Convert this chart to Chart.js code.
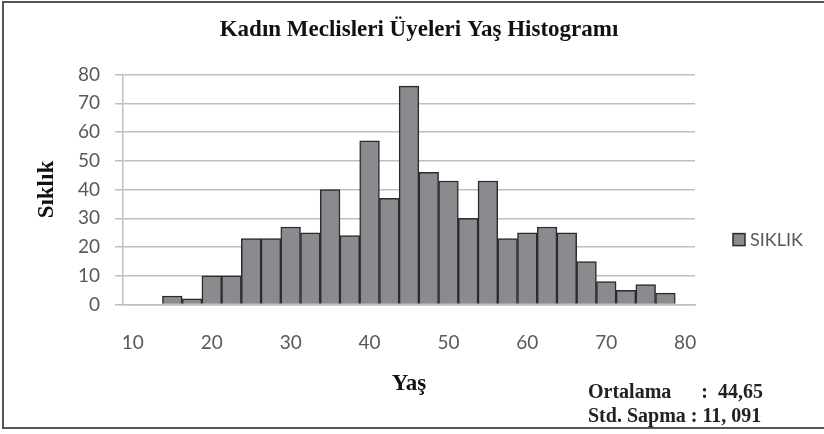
<!DOCTYPE html>
<html>
<head>
<meta charset="utf-8">
<script src="https://cdn.jsdelivr.net/npm/chart.js@4"></script>
<style>
  html, body { margin: 0; padding: 0; background: #fff; overflow: hidden; }
  #wrap { position: relative; width: 824px; height: 434px; }
  #frame { position: absolute; left: 2px; top: 1px; width: 840px; height: 424px;
           border: 2px solid #555; pointer-events: none; }
  #stats { position: absolute; left: 588px; top: 379px; white-space: pre;
           font: bold 20px 'Liberation Serif', serif; line-height: 24px; color: #222; }
</style>
</head>
<body>
<div id="wrap">
  <canvas id="histChart" width="824" height="434"></canvas>
  <div id="frame"></div>
  <div id="stats"></div>
</div>
<script>
const title = 'Kadın Meclisleri Üyeleri Yaş Histogramı'
const xTitle = 'Yaş'
const yTitle = 'Sıklık'
const seriesName = 'SIKLIK'

// age bins (2.5 years wide), only every 4th one gets a label
const ages = [10, 12.5, 15, 17.5, 20, 22.5, 25, 27.5, 30, 32.5, 35, 37.5, 40, 42.5, 45,
    47.5, 50, 52.5, 55, 57.5, 60, 62.5, 65, 67.5, 70, 72.5, 75, 77.5, 80]
const counts = [null, null, 3, 2, 10, 10, 23, 23, 27, 25, 40, 24, 57, 37, 76,
    46, 43, 30, 43, 23, 25, 27, 25, 15, 8, 5, 7, 4, null]
const yTicks = [0, 10, 20, 30, 40, 50, 60, 70, 80]
const statLines = ['Ortalama      :  44,65', 'Std. Sapma : 11, 091']

document.getElementById('stats').textContent = statLines.join('\n')

const barFill = '#8a8b8f'
const barEdge = '#2b2b2b'
const gridGray = '#bfbfbf'
const tickGray = '#595959'
const titleFont = { family: 'Liberation Serif', size: 23, weight: 'bold' }

// legend as its own layout box on the right, so the title stays centred on the canvas
const sideLegend = {
    id: 'sideLegend',
    afterInit(chart) {
        const box = {
            position: 'right',
            weight: 0,
            fullSize: false,
            options: {},
            width: 129, height: 0, left: 0, top: 0, right: 0, bottom: 0,
            isHorizontal() { return false },
            getPadding() { return { left: 0, right: 0, top: 0, bottom: 0 } },
            update(maxWidth, maxHeight) {
                this.width = 129
                this.height = maxHeight
            },
            draw() {
                const c = chart.ctx
                const area = chart.chartArea
                const ds = chart.data.datasets[0]
                const x = this.left + 38
                const y = (area.top + area.bottom) / 2 + 50
                c.save()
                c.fillStyle = ds.backgroundColor
                c.strokeStyle = ds.borderColor
                c.lineWidth = 1.5
                c.fillRect(x, y - 6, 12, 12)
                c.strokeRect(x, y - 6, 12, 12)
                c.fillStyle = tickGray
                c.font = '18px Lato'
                c.textBaseline = 'middle'
                c.fillText(ds.label, x + 17, y + 1)
                c.restore()
            }
        }
        Chart.layouts.addBox(chart, box)
    }
}

var ctx = document.getElementById('histChart')
var myChart = new Chart(ctx, {
    type: 'bar',
    data: {
        labels: ages,
        datasets: [{
            label: seriesName,
            data: counts,
            backgroundColor: barFill,
            borderColor: barEdge,
            borderWidth: 1.5,
            barPercentage: 1,
            categoryPercentage: 1
        }]
    },
    options: {
        responsive: false,
        animation: false,
        devicePixelRatio: 1,
        layout: { padding: { left: 14, right: 0, top: 0, bottom: 0 } },
        plugins: {
            legend: { display: false },
            tooltip: { enabled: false },
            title: {
                display: true,
                text: title,
                color: '#111',
                font: titleFont,
                padding: { top: 16, bottom: 31 }
            }
        },
        scales: {
            x: {
                grid: { display: false, drawTicks: false },
                border: { display: true, color: gridGray, width: 1.5 },
                ticks: {
                    color: tickGray,
                    font: { family: 'Lato', size: 19 },
                    padding: 27,
                    autoSkip: false,
                    maxRotation: 0,
                    callback: function (val, i) {
                        return i % 4 === 0 ? String(ages[i]) : null
                    }
                },
                title: {
                    display: true,
                    text: xTitle,
                    color: '#111',
                    font: titleFont,
                    padding: { top: -11, bottom: 36 }
                }
            },
            y: {
                min: yTicks[0],
                max: yTicks[yTicks.length - 1],
                afterFit: function (scale) { scale.width = 109 },
                afterBuildTicks: function (scale) {
                    scale.ticks = yTicks.map(v => ({ value: v }))
                },
                grid: { color: gridGray, lineWidth: 1.5, tickLength: 8 },
                border: { display: true, color: gridGray, width: 1.5 },
                ticks: {
                    color: tickGray,
                    font: { family: 'Lato', size: 19 },
                    padding: 15
                },
                title: {
                    display: true,
                    text: yTitle,
                    color: '#111',
                    font: titleFont,
                    padding: { top: 19, bottom: 0 }
                }
            }
        }
    },
    plugins: [sideLegend]
})
</script>
</body>
</html>
